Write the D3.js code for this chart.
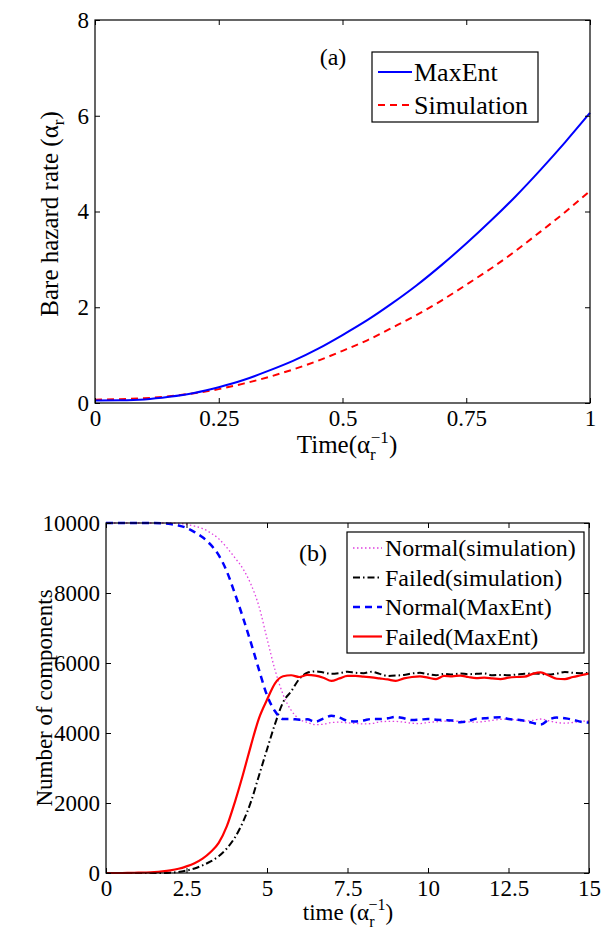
<!DOCTYPE html>
<html>
<head>
<meta charset="utf-8">
<script src="https://cdn.jsdelivr.net/npm/d3@7"></script>
<style>
  body { margin: 0; background: #fff; }
  svg { display: block; }
  svg text { font-family: "Liberation Serif", "DejaVu Serif", serif !important; fill: #000; }
</style>
</head>
<body>
<svg width="601" height="938"></svg>
<script>
// ---- panel (a) data ----
var hazTime = [0, 0.05, 0.1, 0.15, 0.2, 0.25, 0.3, 0.35, 0.4, 0.45, 0.5,
               0.55, 0.6, 0.65, 0.7, 0.75, 0.8, 0.85, 0.9, 0.95, 1];
var hazMaxEnt = [0.05, 0.055, 0.075, 0.13, 0.21, 0.33, 0.48, 0.67, 0.88, 1.13, 1.42,
                 1.73, 2.08, 2.46, 2.88, 3.33, 3.81, 4.32, 4.87, 5.45, 6.06];
var hazSim = [0.07, 0.08, 0.10, 0.14, 0.205, 0.29, 0.405, 0.54, 0.70, 0.88, 1.09,
              1.31, 1.57, 1.84, 2.14, 2.47, 2.81, 3.18, 3.58, 3.99, 4.43];
var hazXTicks = [0, 0.25, 0.5, 0.75, 1];
var hazXLabels = ['0', '0.25', '0.5', '0.75', '1'];
var hazYTicks = [0, 2, 4, 6, 8];

// ---- panel (b) data ----
var compTime = d3.range(0, 15.001, 0.25);
var normalMaxEnt = [10000, 10000, 10000, 10000, 10000, 10000, 10000, 9990, 9970, 9930,
  9860, 9740, 9590, 9380, 9080, 8620, 7990, 7310, 6580, 5810,
  5080, 4620, 4400, 4400, 4380, 4390, 4320, 4410, 4490, 4440,
  4350, 4330, 4360, 4400, 4400, 4420, 4460, 4420, 4370, 4380,
  4400, 4380, 4370, 4360, 4310, 4340, 4410, 4420, 4440, 4450,
  4400, 4380, 4350, 4290, 4240, 4380, 4440, 4420, 4380, 4320, 4300];
var failedMaxEnt = [0, 0, 0, 5, 10, 15, 25, 45, 75, 120,
  190, 280, 410, 600, 860, 1330, 2020, 2800, 3640, 4420,
  4950, 5420, 5620, 5650, 5600, 5660, 5640, 5580, 5490, 5560,
  5630, 5630, 5610, 5590, 5560, 5530, 5490, 5560, 5600, 5620,
  5580, 5540, 5630, 5620, 5640, 5600, 5570, 5580, 5560, 5540,
  5580, 5600, 5610, 5690, 5730, 5640, 5550, 5540, 5600, 5650, 5700];
var failedSim = [0, 0, 0, 0, 0, 0, 0, 0, 10, 30,
  70, 130, 220, 330, 480, 700, 1010, 1450, 2030, 2780,
  3530, 4260, 4880, 5190, 5540, 5720, 5760, 5730, 5690, 5710,
  5750, 5720, 5710, 5750, 5690, 5630, 5640, 5660, 5700, 5720,
  5680, 5650, 5690, 5670, 5700, 5680, 5690, 5700, 5650, 5660,
  5650, 5670, 5690, 5700, 5690, 5670, 5700, 5740, 5720, 5710, 5720];
var normalSim = [10000, 10000, 10000, 10000, 10000, 10000, 10000, 10000, 10000, 9990,
  9960, 9910, 9840, 9720, 9550, 9300, 9010, 8700, 8250, 7620,
  6700, 5800, 5100, 4650, 4400, 4300, 4240, 4250, 4300, 4310,
  4290, 4270, 4260, 4270, 4320, 4330, 4330, 4310, 4280, 4270,
  4300, 4320, 4340, 4330, 4340, 4320, 4310, 4330, 4360, 4390,
  4400, 4370, 4340, 4360, 4400, 4350, 4300, 4280, 4300, 4330, 4350];
var compXTicks = [0, 2.5, 5, 7.5, 10, 12.5, 15];
var compXLabels = ['0', '2.5', '5', '7.5', '10', '12.5', '15'];
var compYTicks = [0, 2000, 4000, 6000, 8000, 10000];

var svg = d3.select('svg');
var fs = 23;

function drawFrame(g, x, y, xTicks, xLabels, yTicks, w, h) {
  g.append('g')
    .attr('transform', 'translate(0,' + h + ')')
    .call(d3.axisBottom(x).tickValues(xTicks).tickSizeInner(-5).tickSizeOuter(0).tickPadding(7)
      .tickFormat(function(d, i) { return xLabels[i]; }));
  g.append('g')
    .call(d3.axisTop(x).tickValues(xTicks).tickSizeInner(-5).tickSizeOuter(0).tickFormat(''));
  g.append('g')
    .call(d3.axisLeft(y).tickValues(yTicks).tickSizeInner(-5).tickSizeOuter(0).tickPadding(6)
      .tickFormat(d3.format('d')));
  g.append('g')
    .attr('transform', 'translate(' + w + ',0)')
    .call(d3.axisRight(y).tickValues(yTicks).tickSizeInner(-5).tickSizeOuter(0).tickFormat(''));
  g.selectAll('.domain').remove();
  g.selectAll('.tick line').attr('stroke', '#000');
  g.selectAll('.tick text').attr('font-size', fs);
  g.append('rect')
    .attr('width', w).attr('height', h)
    .attr('fill', 'none').attr('stroke', '#000').attr('stroke-width', 1.2);
}

// ---------- panel (a) ----------
var a = { left: 95, top: 20, w: 495, h: 383 };
var ga = svg.append('g').attr('transform', 'translate(' + a.left + ',' + a.top + ')');
var xa = d3.scaleLinear().domain([0, 1]).range([0, a.w]);
var ya = d3.scaleLinear().domain([0, 8]).range([a.h, 0]);

var lineA = function(vals) {
  return d3.line()
    .x(function(d, i) { return xa(hazTime[i]); })
    .y(function(d) { return ya(d); })
    .curve(d3.curveNatural)(vals);
};

ga.append('path').attr('d', lineA(hazSim))
  .attr('fill', 'none').attr('stroke', '#ff0000').attr('stroke-width', 2)
  .attr('stroke-dasharray', '7,5');
ga.append('path').attr('d', lineA(hazMaxEnt))
  .attr('fill', 'none').attr('stroke', '#0000ff').attr('stroke-width', 2);

drawFrame(ga, xa, ya, hazXTicks, hazXLabels, hazYTicks, a.w, a.h);

ga.append('text').attr('x', 238).attr('y', 45).attr('text-anchor', 'middle')
  .attr('font-size', 24).text('(a)');

var legA = ga.append('g').attr('transform', 'translate(277,32)');
legA.append('rect').attr('width', 166).attr('height', 70)
  .attr('fill', '#fff').attr('stroke', '#000').attr('stroke-width', 1.2);
[['MaxEnt', '#0000ff', null], ['Simulation', '#ff0000', '7,5']].forEach(function(it, i) {
  var yy = 20 + i * 33;
  legA.append('line').attr('x1', 6).attr('x2', 40).attr('y1', yy).attr('y2', yy)
    .attr('stroke', it[1]).attr('stroke-width', 2).attr('stroke-dasharray', it[2]);
  legA.append('text').attr('x', 42).attr('y', yy + 9).attr('font-size', 26).text(it[0]);
});

// axis labels (a)
var ylA = svg.append('text').attr('transform', 'translate(58,214) rotate(-90)')
  .attr('text-anchor', 'middle').attr('font-size', 25);
ylA.append('tspan').text('Bare hazard rate (α');
ylA.append('tspan').attr('font-size', 17).attr('dy', 6).text('r');
ylA.append('tspan').attr('dy', -6).text(')');

var xlA = svg.append('text').attr('x', 347).attr('y', 453)
  .attr('text-anchor', 'middle').attr('font-size', 25);
xlA.append('tspan').text('Time(α');
xlA.append('tspan').attr('font-size', 17).attr('dy', 7).text('r');
xlA.append('tspan').attr('font-size', 17).attr('dx', -5).attr('dy', -17).text('−1');
xlA.append('tspan').attr('dy', 10).text(')');

// ---------- panel (b) ----------
var b = { left: 106, top: 523, w: 483, h: 350 };
var gb = svg.append('g').attr('transform', 'translate(' + b.left + ',' + b.top + ')');
var xb = d3.scaleLinear().domain([0, 15]).range([0, b.w]);
var yb = d3.scaleLinear().domain([0, 10000]).range([b.h, 0]);

var lineB = function(vals) {
  return d3.line()
    .x(function(d, i) { return xb(compTime[i]); })
    .y(function(d) { return yb(d); })
    .curve(d3.curveMonotoneX)(vals);
};

var series = [
  { name: 'Normal(simulation)', vals: normalSim, color: '#e040e0', width: 1.3, dash: '1.5,2.5' },
  { name: 'Failed(simulation)', vals: failedSim, color: '#000000', width: 2, dash: '7,3,1.5,3' },
  { name: 'Normal(MaxEnt)', vals: normalMaxEnt, color: '#0000ff', width: 2.5, dash: '7,5' },
  { name: 'Failed(MaxEnt)', vals: failedMaxEnt, color: '#ff0000', width: 2.2, dash: null }
];

series.forEach(function(s) {
  gb.append('path').attr('d', lineB(s.vals))
    .attr('fill', 'none').attr('stroke', s.color).attr('stroke-width', s.width)
    .attr('stroke-dasharray', s.dash);
});

drawFrame(gb, xb, yb, compXTicks, compXLabels, compYTicks, b.w, b.h);

gb.append('text').attr('x', 207).attr('y', 38).attr('text-anchor', 'middle')
  .attr('font-size', 24).text('(b)');

var legB = gb.append('g').attr('transform', 'translate(241,9)');
legB.append('rect').attr('width', 237).attr('height', 121)
  .attr('fill', '#fff').attr('stroke', '#000').attr('stroke-width', 1.2);
series.forEach(function(s, i) {
  var yy = 16 + i * 29.5;
  legB.append('line').attr('x1', 6).attr('x2', 35).attr('y1', yy).attr('y2', yy)
    .attr('stroke', s.color).attr('stroke-width', s.width).attr('stroke-dasharray', s.dash);
  legB.append('text').attr('x', 38).attr('y', yy + 8).attr('font-size', 24).text(s.name);
});

// axis labels (b)
svg.append('text').attr('transform', 'translate(52,698) rotate(-90)')
  .attr('text-anchor', 'middle').attr('font-size', fs).text('Number of components');

var xlB = svg.append('text').attr('x', 348).attr('y', 920)
  .attr('text-anchor', 'middle').attr('font-size', fs);
xlB.append('tspan').text('time (α');
xlB.append('tspan').attr('font-size', 16).attr('dy', 7).text('r');
xlB.append('tspan').attr('font-size', 16).attr('dx', -6).attr('dy', -17).text('−1');
xlB.append('tspan').attr('dy', 10).text(')');
</script>
</body>
</html>
